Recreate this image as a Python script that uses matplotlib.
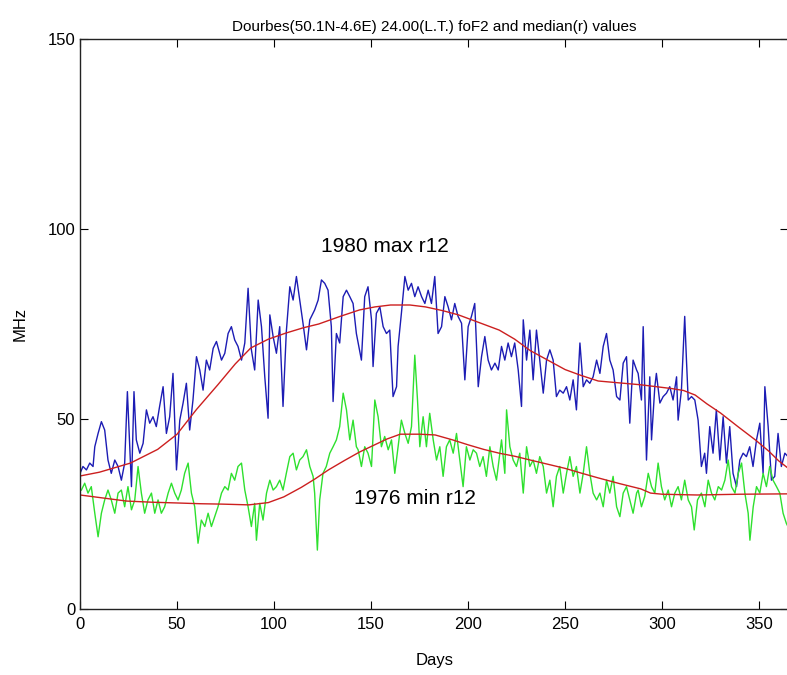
import matplotlib
matplotlib.use("Agg")
import matplotlib.pyplot as plt

# ── daily foF2 values, 1980 (solar max) ──────────────────────────────────────
days_1980 = [0, 1.5, 3.3, 5, 6.7, 7.6, 9.3, 11, 12.7, 14.4, 16.1, 17.9, 19.6, 21.3, 23,
             24.4, 25.6, 26.5, 27.8, 29, 30.8, 32.5, 34.2, 35.9, 37.6, 39.3, 41, 42.8,
             44.5, 46.2, 47.9, 49.7, 51.4, 53.1, 54.8, 56.5, 58.2, 60, 61.7, 63.4, 65.1,
             66.8, 68.6, 70.3,
             72.9, 74.6, 76.3, 78, 79.7, 81.4, 83.2, 84.9, 86.6, 88.3, 90, 91.8, 93.5,
             95.2, 96.9, 97.8, 99.5, 101.2, 102.9, 104.6, 106.3, 108.1, 109.8, 111.5,
             113.2, 114.9, 116.7, 118.4, 120.9, 122.7, 124.4, 126.1, 127.8, 129.5, 130.4,
             132.1, 133.8, 135.6, 137.3, 139, 140.7, 142.4,
             145, 146.7, 148.4, 150.2, 151, 152.7, 154.5, 156.2, 157.9, 159.6, 161.3,
             163.1, 163.9, 165.6, 167.4, 169.1, 170.8, 172.5, 174.2, 176, 177.7, 179.4,
             181.1, 182.8, 184.5, 186.3, 188, 189.7, 191.4, 193.1, 194.8, 196.6, 198.3,
             200, 201.7, 203.4, 205.2, 206.9, 208.6, 210.3, 212, 213.8, 215.5,
             217.2, 218.9, 220.6, 222.3, 224, 225.8, 227.5, 228.4, 230.1, 231.8, 233.5,
             235.2, 236.9, 238.7, 240.4, 242.1, 243.8, 245.5, 247.2, 249, 250.7, 252.4,
             254.1, 255.8, 257.6, 259.3, 261, 262.7, 264.4, 266.2, 267.9, 269.6, 271.3,
             273, 274.7, 276.5, 278.2, 279.9, 281.6, 283.3, 285, 286.8,
             287.6, 289.3, 290.2, 291.9, 293.6, 294.5, 296.2, 297, 298.8, 300.5, 302.2,
             303.9, 305.6, 307.4, 308.2, 309.9, 311.6, 312.5, 313.4, 315.1, 316.8, 318.5,
             320.2, 321.9, 322.8, 324.5, 326.2, 327.9, 329.7, 331.4, 333.1, 334.8, 336.5,
             338.3, 340, 341.7, 343.4, 345.1, 346.8, 348.6, 350.3, 352, 352.9, 354.6,
             356.3, 358, 359.7, 361.4, 363.2, 365]
fof2_1980 = [35.7, 37.5, 36.6, 38.4, 37.5, 42.7, 46.2, 49.3, 47.1, 39.2, 35.7, 39.2, 37.5,
             33.9, 38.4, 57.2, 42.7, 32.2, 57.2, 44.5, 41.0, 43.6, 52.4, 48.9, 50.6, 48.0,
             53.3, 58.5, 46.2, 50.6, 62.0, 36.6, 49.7, 54.2, 59.4, 47.1, 55.0, 66.4, 62.9,
             57.6, 65.5, 62.9, 68.6, 70.4,
             65.5, 67.3, 72.5, 74.3, 70.8, 69.1, 65.5, 70.0, 84.4, 68.2, 62.9, 81.3, 74.3,
             61.1, 50.2, 77.4, 71.7, 67.3, 74.3, 53.3, 73.0, 84.8, 81.3, 87.5, 81.3, 75.2,
             68.2, 76.1, 78.7, 81.3, 86.6, 85.7, 83.9, 74.3, 54.6, 72.5, 70.0, 82.2, 83.9,
             82.2, 80.4, 72.5,
             65.5, 82.2, 84.8, 76.1, 63.8, 77.8, 79.5, 74.3, 72.5, 73.4, 55.9, 58.5, 69.1,
             77.8, 87.5, 83.9, 85.7, 82.2, 84.8, 82.2, 80.4, 83.9, 80.4, 87.5, 72.5, 74.3,
             82.2, 79.5, 76.1, 80.4, 77.0, 75.2, 60.3, 74.3, 77.0, 80.4, 58.5, 66.4, 71.7,
             65.5, 62.9, 64.7, 62.9,
             69.1, 65.5, 70.0, 66.4, 70.0, 62.9, 53.3, 76.1, 65.5, 73.4, 60.3, 73.4, 65.5,
             56.8, 65.5, 68.2, 65.5, 55.9, 57.6, 56.8, 58.5, 55.0, 60.3, 52.4, 70.0, 58.5,
             60.3, 59.4, 61.1, 65.5, 62.0, 69.1, 72.5, 65.5, 62.9, 55.9, 55.0, 64.7, 66.4,
             48.9, 65.5, 62.9,
             62.0, 55.0, 74.3, 39.2, 61.1, 44.5, 58.5, 62.0, 54.2, 55.9, 56.8, 58.5, 55.0,
             61.1, 49.7, 57.6, 77.0, 65.5, 55.0, 55.9, 55.0, 49.7, 37.5, 41.0, 35.7, 48.0,
             41.0, 52.4, 39.2, 50.6, 38.4, 48.0, 35.7, 32.2, 39.2, 41.0, 40.1, 42.7, 37.5,
             44.5, 48.9, 35.7, 58.5, 48.0, 33.9, 34.9, 46.2, 37.5, 41.0, 40.0]

# ── daily foF2 values, 1976 (solar min) ──────────────────────────────────────
days_1976 = [0.7, 2.4, 4.1, 5.8, 7.6, 9.3, 11, 12.7, 14.4, 16.1, 17.9, 19.6, 21.3, 23,
             24.7, 26.5, 28.2, 29.9, 31.6, 33.3, 35, 36.8, 38.5, 40.2, 41.9, 43.6, 45.4,
             47.1, 48.8, 50.5, 52.2, 53.9, 55.7, 57.4, 59.1, 60.8, 62.5, 64.3, 66, 67.7,
             69.4, 71.1,
             72.9, 74.6, 76.3, 78, 79.7, 81.4, 83.2, 84.9, 86.6, 88.3, 90, 90.9, 92.6,
             94.3, 96.1, 97.8, 99.5, 101.2, 102.9, 104.6, 106.3, 108.1, 109.8, 111.5,
             113.2, 114.9, 116.7, 118.4, 120.1, 120.9, 122.3, 123.5, 125.2, 126.9, 128.7,
             130.4, 132.1, 133.8, 135.6, 137.3, 139, 140.7, 142.4,
             143.3, 145, 146.7, 148.4, 150.2, 151.9, 153.6, 155.3, 157, 158.8, 160.5,
             162.2, 163.9, 165.6, 167.4, 169.1, 170.8, 172.5, 173.9, 175.1, 176.8, 178.5,
             180.2, 182, 183.7, 185.4, 187.1, 188.8, 190.5, 192.3, 194, 195.7, 197.4,
             199.1, 200.9, 202.6, 204.3, 206, 207.7, 209.4, 211.2, 212.9, 214.6,
             217.2, 218.9, 219.8, 221.5, 223.2, 224.9, 226.6, 228.4, 230.1, 231.8, 233.5,
             235.2, 236.9, 238.7, 240.4, 242.1, 243.8, 245.5, 247.2, 249, 250.7, 252.4,
             254.1, 255.8, 257.6, 259.3, 261, 262.7, 264.4, 266.2, 267.9, 269.6, 271.3,
             273, 274.7, 276.5, 278.2, 279.9, 281.6, 283.3, 285, 286.8,
             287.6, 289.3, 291, 292.8, 294.5, 296.2, 297.9, 299.6, 301.3, 303.1, 304.8,
             306.5, 308.2, 309.9, 311.6, 313.4, 315.1, 316.5, 318.2, 320.2, 322, 323.7,
             325.4, 327.1, 328.9, 330.6, 332.3, 334, 335.7, 337.5, 339.2, 340.9, 342.6,
             344.3, 345.2, 346.9, 348.6, 350.3, 352, 353.7, 355.4, 357.1, 358.9, 360.6,
             362.3, 364, 365]
fof2_1976 = [31.3, 33.1, 30.5, 32.2, 25.2, 19.0, 25.2, 28.7, 31.3, 28.7, 25.2, 30.5, 31.3,
             26.9, 32.2, 26.1, 28.7, 37.5, 30.5, 25.2, 28.7, 30.5, 25.2, 28.7, 25.2, 26.9,
             30.5, 33.1, 30.5, 28.7, 31.3, 35.7, 38.4, 30.5, 26.9, 17.3, 23.4, 21.7, 25.2,
             21.7, 24.3, 26.9,
             30.5, 32.2, 31.3, 35.7, 33.9, 37.5, 38.4, 31.3, 26.9, 21.7, 27.8, 18.1, 27.8,
             23.4, 30.5, 33.9, 31.3, 32.2, 33.9, 31.3, 35.7, 40.1, 41.0, 36.6, 39.2, 40.1,
             41.9, 37.5, 34.9, 30.5, 15.5, 28.7, 35.7, 37.5, 41.0, 42.7, 44.5, 48.0, 56.8,
             52.4, 44.5, 49.7, 42.7,
             41.9, 37.5, 42.7, 41.0, 37.5, 55.0, 50.6, 42.7, 45.4, 41.9, 44.5, 35.7, 42.7,
             49.7, 46.2, 43.6, 48.0, 66.8, 55.0, 42.7, 50.6, 42.7, 51.5, 44.5, 39.2, 42.7,
             34.9, 42.7, 44.5, 41.0, 46.2, 39.2, 32.2, 42.7, 39.2, 41.9, 41.0, 37.5, 40.1,
             34.9, 42.7, 37.5, 33.9,
             44.5, 35.7, 52.4, 42.7, 39.2, 37.5, 41.0, 30.5, 42.7, 37.5, 39.2, 35.7, 40.1,
             37.5, 30.5, 33.9, 26.9, 34.9, 37.5, 30.5, 35.7, 40.1, 34.9, 37.5, 30.5, 35.7,
             42.7, 35.7, 30.5, 28.7, 30.5, 26.9, 33.9, 30.5, 34.9, 26.9, 24.3, 30.5, 32.2,
             28.7, 25.2, 30.5,
             31.3, 26.9, 29.6, 35.7, 32.2, 30.5, 38.4, 32.2, 28.7, 31.3, 26.9, 30.5, 32.2,
             28.7, 33.9, 28.7, 26.9, 20.8, 28.7, 30.5, 26.9, 33.9, 30.5, 28.7, 32.2, 31.3,
             33.9, 39.2, 32.2, 30.5, 35.7, 38.4, 30.5, 25.2, 18.1, 26.9, 32.2, 30.5, 35.7,
             32.2, 37.5, 33.9, 32.2, 30.5, 25.2, 22.5, 21.5]

# ── running medians (red curves) ─────────────────────────────────────────────
med_days_1980 = [0, 10, 26, 40, 50, 60, 71, 80, 88, 97, 106, 115, 123, 134, 144, 152,
                 160, 170, 178, 187, 195, 205, 216, 224, 232, 241, 250, 258, 267, 278,
                 289, 297, 305, 311, 317, 323, 330, 339, 348, 355, 360, 365]
med_1980 = [35, 36, 38.4, 42, 46, 52.5, 59, 64.5, 68.7, 71, 72.6, 74, 75, 77, 78.7,
            79.5, 80, 80, 79.5, 78.5, 77.4, 75.5, 73.4, 71, 68, 65.5, 63, 61.5, 60, 59.5,
            59, 58.5, 58, 57.5, 56.3, 54, 51.6, 48, 44.5, 41.5, 39, 37]
med_days_1976 = [0, 12, 24, 37, 50, 62, 73, 87, 97, 105, 114, 121, 128, 136, 144, 151,
                 158, 165, 175, 183, 192, 200, 208, 216, 224, 232, 241, 250, 258, 267,
                 278, 289, 294, 300, 318, 340, 365]
med_1976 = [30, 29.2, 28.4, 28.1, 27.9, 27.7, 27.6, 27.4, 28, 29.5, 32, 34.2, 36.6, 39,
            41.3, 43, 44.7, 46, 46, 45.8, 44.5, 43.2, 42, 41, 40.2, 39.2, 38.1, 37, 35.8,
            34.5, 33, 31.6, 30.5, 30.2, 30, 30.2, 30.3]

plt.rcParams["font.family"] = ["Liberation Sans", "DejaVu Sans"]
plt.rcParams["font.size"] = 11

fig = plt.figure(figsize=(7.87, 6.75), dpi=100)
ax = fig.add_axes([0.1017, 0.0978, 0.9, 0.8444])

ax.plot(days_1980, fof2_1980, color="#1c1cb4", lw=1.0)
ax.plot(days_1976, fof2_1976, color="#2ee02e", lw=1.0)
ax.plot(med_days_1980, med_1980, color="#cc1f1f", lw=1.0)
ax.plot(med_days_1976, med_1976, color="#cc1f1f", lw=1.0)

ax.text(157, 95.3, "1980 max r12", ha="center", va="center", fontsize=15)
ax.text(172.5, 29.0, "1976 min r12", ha="center", va="center", fontsize=15)

ax.set_xlim(0, 365)
ax.set_ylim(0, 150)
ax.set_xticks([0, 50, 100, 150, 200, 250, 300, 350])
ax.set_yticks([0, 50, 100, 150])
ax.tick_params(direction="in", top=True, right=True, length=6, labelsize=12)
ax.tick_params(axis="x", pad=6)
for s in ax.spines.values():
    s.set_linewidth(1.0)
    s.set_color("#222222")

ax.set_title("Dourbes(50.1N-4.6E) 24.00(L.T.) foF2 and median(r) values", fontsize=11)
ax.set_xlabel("Days", fontsize=12, labelpad=15)
ax.set_ylabel("MHz", fontsize=12, labelpad=14)

fig.savefig("out.png", dpi=100)
